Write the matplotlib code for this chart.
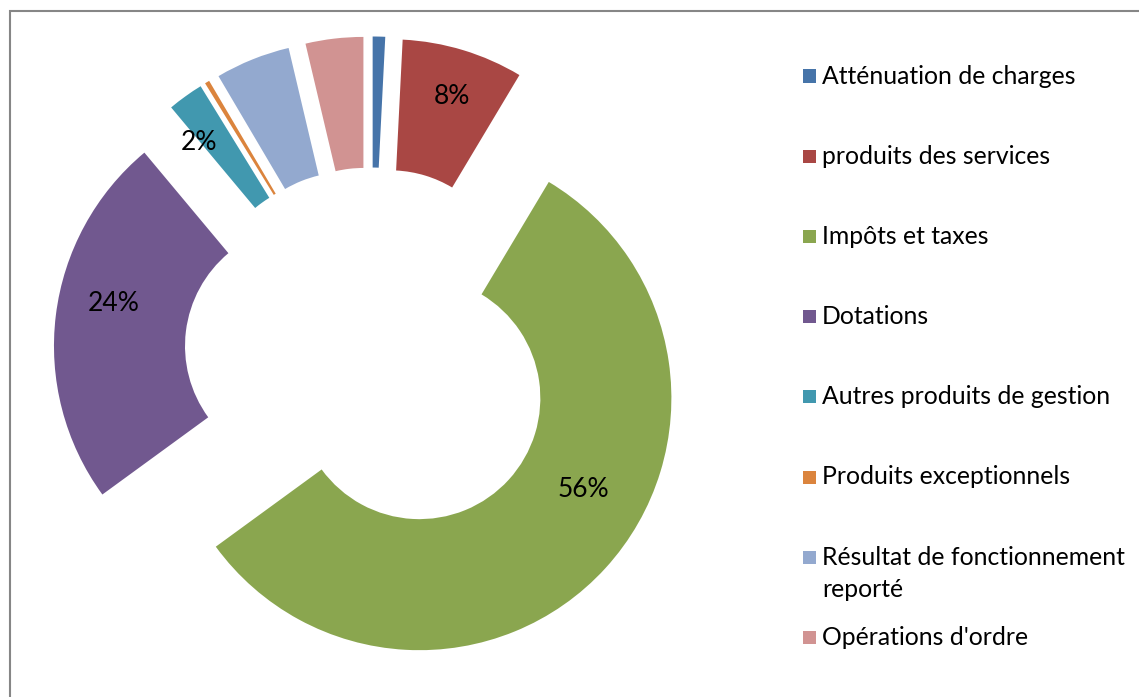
import numpy as np
import matplotlib
matplotlib.use("Agg")
import matplotlib.pyplot as plt
from matplotlib.patches import Rectangle

plt.rcParams["font.family"] = ["Lato", "DejaVu Sans"]

labels = ["Atténuation de charges", "produits des services", "Impôts et taxes",
          "Dotations", "Autres produits de gestion", "Produits exceptionnels",
          "Résultat de fonctionnement\nreporté", "Opérations d'ordre"]
values = [0.8, 7.8, 56.5, 24.0, 2.3, 0.3, 4.8, 3.7]
shown = [False, True, True, True, True, False, False, False]
colors = ["#4674A9", "#A94744", "#8AA64F", "#71588F",
          "#4198AF", "#DB843D", "#93A9CF", "#D19392"]

FS_LEG = 17.8
FS_PCT = 19

fig = plt.figure(figsize=(11.39, 6.97), dpi=100)
ax = fig.add_axes([0, 0, 1, 1])

R_PX = 252.0
CX, CY = 371.0, 697 - 354.0

wedges, _ = ax.pie(values, colors=colors, startangle=90, counterclock=False,
                   explode=[0.26] * len(values),
                   wedgeprops=dict(width=0.52, linewidth=0))

# label placement: (angle nudge in deg, radius) -- Excel does not centre them exactly
nudge = {1: (-0.7, 0.81), 2: (13.3, 0.745), 3: (-5.5, 0.78)}

total = sum(values)
for i, (w, v, s) in enumerate(zip(wedges, values, shown)):
    if not s:
        continue
    if i in nudge:
        da, r = nudge[i]
        ang = np.deg2rad((w.theta1 + w.theta2) / 2 + da)
    else:
        # small slice: label sits on its left edge
        ang = np.deg2rad(w.theta2 + 0.3)
        r = 0.82
    cx, cy = w.center
    ax.text(cx + r * np.cos(ang), cy + r * np.sin(ang), f"{v / total * 100:.0f}%",
            ha="center", va="center", fontsize=FS_PCT, color="black")

ax.set_xlim(-CX / R_PX, (1139 - CX) / R_PX)
ax.set_ylim(-CY / R_PX, (697 - CY) / R_PX)
ax.axis("off")

# legend drawn by hand (Excel style, first line aligned with the box)
y0 = 1 - 76 / 697
step = 80.2 / 697
for i, (lab, col) in enumerate(zip(labels, colors)):
    y = y0 - i * step
    fig.patches.append(Rectangle((803 / 1139, y - 6.5 / 697), 12.5 / 1139, 13 / 697,
                                 transform=fig.transFigure, facecolor=col,
                                 edgecolor="none"))
    for j, part in enumerate(lab.split("\n")):
        fig.text(822 / 1139, y - j * 32 / 697, part, fontsize=FS_LEG,
                 va="center", ha="left")

# chart border
fig.patches.append(Rectangle((9.5 / 1139, -0.1), 2, (697 - 11) / 697 + 0.1,
                             transform=fig.transFigure, facecolor="none",
                             edgecolor="#868686", linewidth=1.5))

fig.savefig("out.png", dpi=100)
